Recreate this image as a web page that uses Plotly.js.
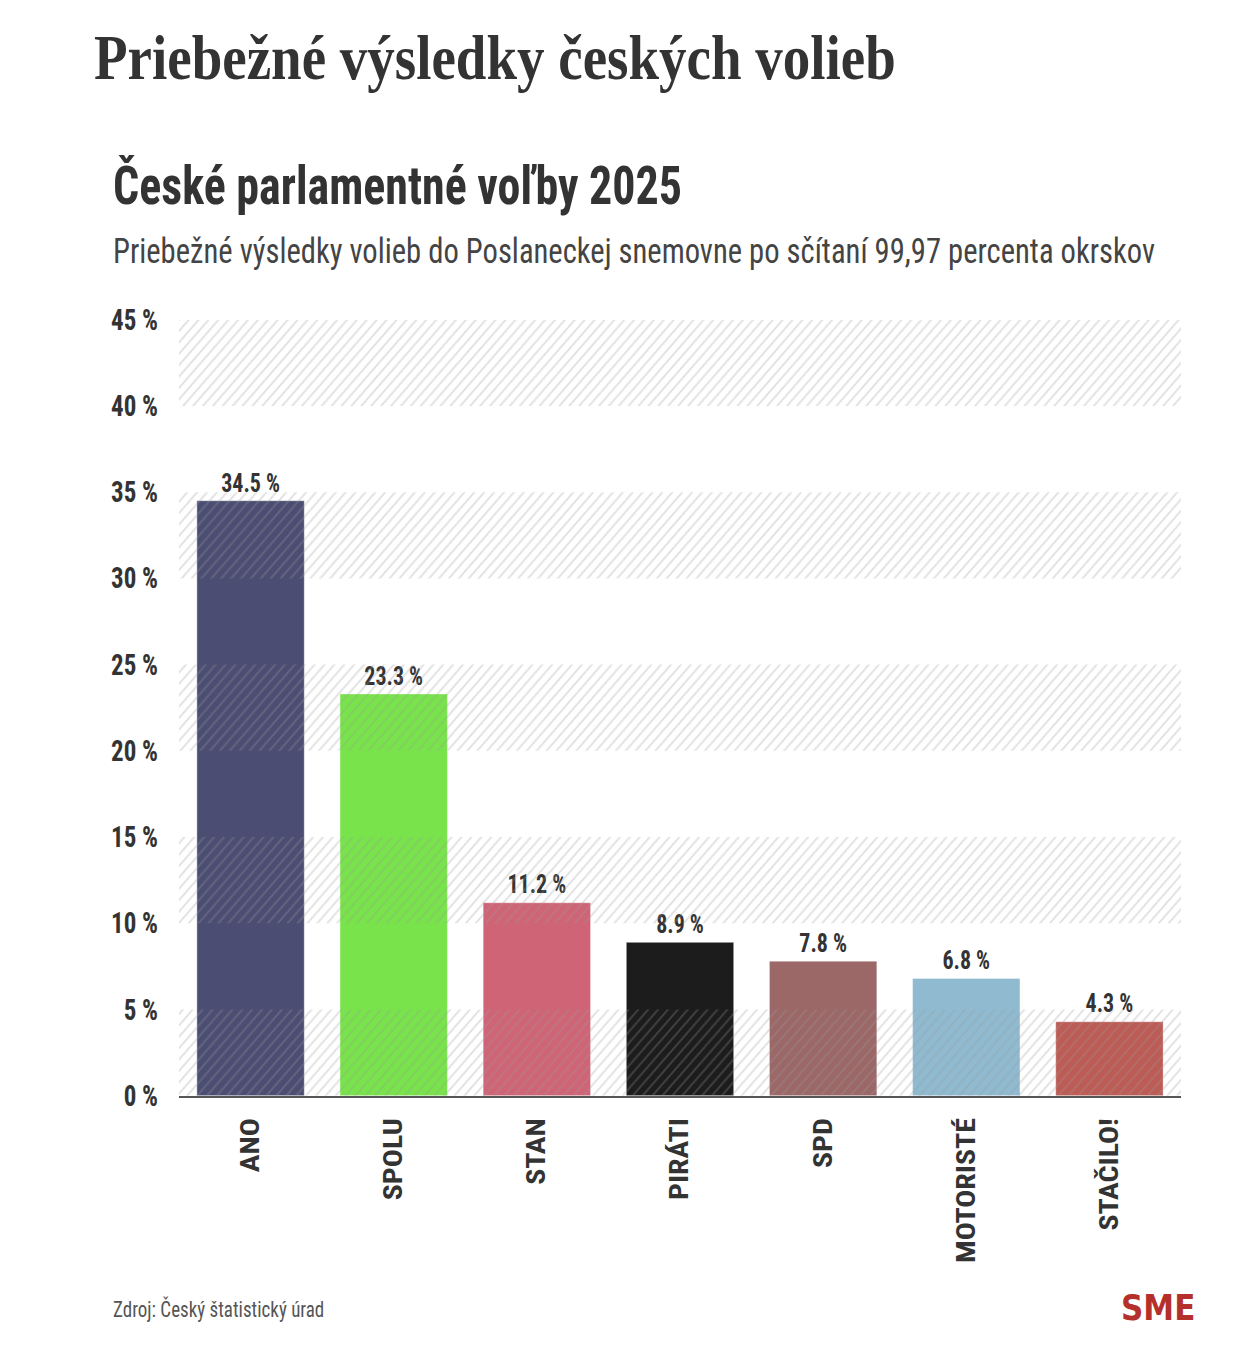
<!DOCTYPE html>
<html>
<head>
<meta charset="utf-8">
<script src="https://cdn.plot.ly/plotly-3.0.1.min.js"></script>
<style>
html,body{margin:0;padding:0;background:#fff;}
#wrap{width:1249px;height:1358px;position:relative;overflow:visible;}
#chart{position:absolute;left:0;top:0;width:1249px;height:1181px;transform:scaleY(1.14987);transform-origin:0 0;}
</style>
</head>
<body>
<div id="wrap"><div id="chart"></div></div>
<script>
const parties = ["ANO", "SPOLU", "STAN", "PIRÁTI", "SPD", "MOTORISTÉ", "STAČILO!"];
const results = [34.5, 23.3, 11.2, 8.9, 7.8, 6.8, 4.3];
const partyColors = ["#4b4e72", "#78e34a", "#cf6476", "#1c1c1c", "#9b6767", "#8fbad0", "#bd5b55"];
const yTicks = [0, 5, 10, 15, 20, 25, 30, 35, 40, 45];
const bandStarts = [0, 10, 20, 30, 40];
const bandHeights = [5, 5, 5, 5, 5];

const COND = "'Roboto Condensed', 'Liberation Sans Narrow', 'DejaVu Sans Condensed', 'Arial Narrow', sans-serif";
const SERIF = "'Liberation Serif', 'DejaVu Serif', serif";

const W = 1249, H = 1181, K = 1358 / H;   // page is stretched vertically by K via CSS
const L = 179, R = 1181, T = 320, B = 1096; // reference pixel positions
const px = x => (x - L) / (R - L);
const py = y => (B - y) / (B - T);

const bars = {
  type: "bar",
  x: parties,
  y: results,
  marker: {color: partyColors, line: {color: "rgba(255,255,255,0.35)", width: 1}},
  text: results.map(v => v.toFixed(1) + " %"),
  textposition: "outside",
  textfont: {family: COND, size: 22, color: "#333", weight: 700},
  cliponaxis: false,
  hoverinfo: "skip",
  showlegend: false
};

const bands = {
  type: "bar",
  x: bandStarts.map(() => 0.5),
  y: bandHeights,
  base: bandStarts,
  width: 1,
  xaxis: "x2",
  yaxis: "y",
  marker: {
    color: "rgba(0,0,0,0)",
    line: {width: 0},
    pattern: {shape: "/", fgcolor: "#9a9a9a", fgopacity: 0.3, size: 7, solidity: 0.25, fillmode: "overlay"}
  },
  hoverinfo: "skip",
  showlegend: false
};

const layout = {
  width: W, height: H,
  paper_bgcolor: "#fff", plot_bgcolor: "rgba(0,0,0,0)",
  margin: {l: L, r: W - R, t: Math.round(T / K), b: Math.round(H - B / K), pad: 0},
  bargap: 0.25,
  barmode: "overlay",
  showlegend: false,
  title: {
    text: "<b>Priebežné výsledky českých volieb</b>",
    font: {family: SERIF, size: 55, color: "#333"},
    x: 94 / W, xanchor: "left", xref: "container",
    y: 1 - 57 / 1358, yanchor: "middle", yref: "container"
  },
  xaxis: {
    type: "category",
    showgrid: false, zeroline: false,
    showline: true, linecolor: "#555", linewidth: 2,
    ticks: "", tickangle: -90,
    ticklabelstandoff: 7,
    tickfont: {family: COND, size: 26, color: "#333", weight: 700},
    fixedrange: true
  },
  xaxis2: {
    overlaying: "x", range: [0, 1], visible: false, fixedrange: true
  },
  yaxis: {
    range: [0, 45], tickvals: yTicks, ticktext: yTicks.map(v => v + " %"),
    showgrid: false, zeroline: false, showline: false, ticks: "",
    ticklabelstandoff: 20,
    tickfont: {family: COND, size: 25, color: "#333", weight: 700},
    fixedrange: true
  },
  annotations: [
    {text: "<b>České parlamentné voľby 2025</b>", xref: "paper", yref: "paper",
     x: px(111), y: py(185), xanchor: "left", yanchor: "middle", showarrow: false,
     font: {family: COND, size: 46, color: "#333"}},
    {text: "Priebežné výsledky volieb do Poslaneckej snemovne po sčítaní 99,97 percenta okrskov", xref: "paper", yref: "paper",
     x: px(111), y: py(252), xanchor: "left", yanchor: "middle", showarrow: false,
     font: {family: COND, size: 30.6, color: "#444"}},
    {text: "Zdroj: Český štatistický úrad", xref: "paper", yref: "paper",
     x: px(111), y: py(1309), xanchor: "left", yanchor: "middle", showarrow: false,
     font: {family: COND, size: 19, color: "#555"}},
    {text: "<b>SME</b>", xref: "paper", yref: "paper",
     x: px(1197), y: py(1307), xanchor: "right", yanchor: "middle", showarrow: false,
     font: {family: "'DejaVu Sans', 'Liberation Sans', sans-serif", size: 31, color: "#b5302a"}}
  ]
};

Plotly.newPlot("chart", [bars, bands], layout, {displayModeBar: false, staticPlot: true});
</script>
</body>
</html>
